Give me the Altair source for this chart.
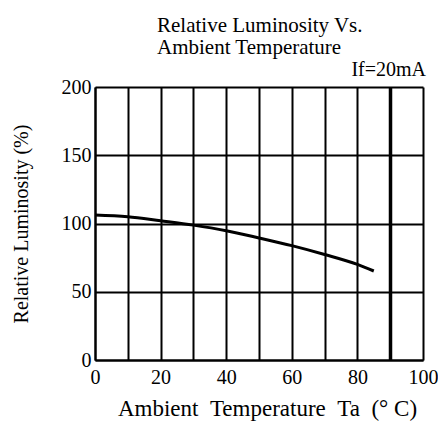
import altair as alt
import pandas as pd

# Data
temps = [0, 10, 20, 30, 40, 50, 60, 70, 80, 85]
lum = [106.3, 105.0, 102.0, 98.8, 94.7, 89.4, 83.8, 77.3, 70.0, 65.2]
x_grid = list(range(0, 101, 10))
y_ticks = [0, 50, 100, 150, 200]
title_lines = ["Relative Luminosity Vs.", "Ambient Temperature"]
note = ["If=20mA"]
S = "\u2002"
x_title = "Ambient" + S + "Temperature" + S + "Ta" + S + "(°\u00a0C)"
y_title = "Relative Luminosity (%)"

FONT = "Liberation Serif"
df = pd.DataFrame({"t": temps, "l": lum})

grid_w = {"condition": {"test": "datum.value === 90", "value": 3.5}, "value": 2}

x_enc = alt.X(
    "t:Q",
    scale=alt.Scale(domain=[0, 100], nice=False, zero=False),
    axis=alt.Axis(
        values=x_grid,
        labelExpr="datum.value % 20 === 0 ? datum.label : ''",
        labelFlush=False,
        labelOverlap=False,
        ticks=False,
        domain=True,
        domainColor="black",
        domainWidth=2,
        grid=True,
        gridColor="black",
        gridOpacity=1,
        gridWidth=grid_w,
        labelFont=FONT,
        labelFontSize=20,
        labelColor="black",
        labelPadding=7,
        title=x_title,
        titleFont=FONT,
        titleFontSize=23,
        titleFontWeight="normal",
        titleColor="black",
        titlePadding=10,
        titleX=172,
    ),
)
y_enc = alt.Y(
    "l:Q",
    scale=alt.Scale(domain=[0, 200], nice=False),
    axis=alt.Axis(
        values=y_ticks,
        ticks=False,
        domain=True,
        domainColor="black",
        domainWidth=2,
        grid=True,
        gridColor="black",
        gridOpacity=1,
        gridWidth=2,
        labelFont=FONT,
        labelFontSize=20,
        labelColor="black",
        labelPadding=4,
        title=y_title,
        titleFont=FONT,
        titleFontSize=20,
        titleFontWeight="normal",
        titleColor="black",
        titlePadding=30,
    ),
)

line = alt.Chart(df).mark_line(
    color="black", strokeWidth=3, interpolate="monotone"
).encode(x=x_enc, y=y_enc)

note_layer = alt.Chart(pd.DataFrame({"n": note})).mark_text(
    align="right", baseline="alphabetic", font=FONT, fontSize=20, color="black"
).encode(x=alt.value(331), y=alt.value(-11), text="n:N")

chart = alt.layer(line, note_layer).properties(
    width=328,
    height=273,
    padding={"left": 87, "top": 79, "right": 15, "bottom": 62},
    autosize=alt.AutoSizeParams(type="none"),
    title=alt.Title(
        title_lines,
        anchor="start",
        frame="group",
        dx=62,
        font=FONT,
        fontSize=21,
        fontWeight="normal",
        lineHeight=22,
        color="black",
        offset=2,
    ),
).configure(background="white", font=FONT).configure_view(
    stroke=None
).configure_axis(labelFont=FONT, titleFont=FONT)

chart.save("out.html", embed_options={"renderer": "svg", "actions": False})
